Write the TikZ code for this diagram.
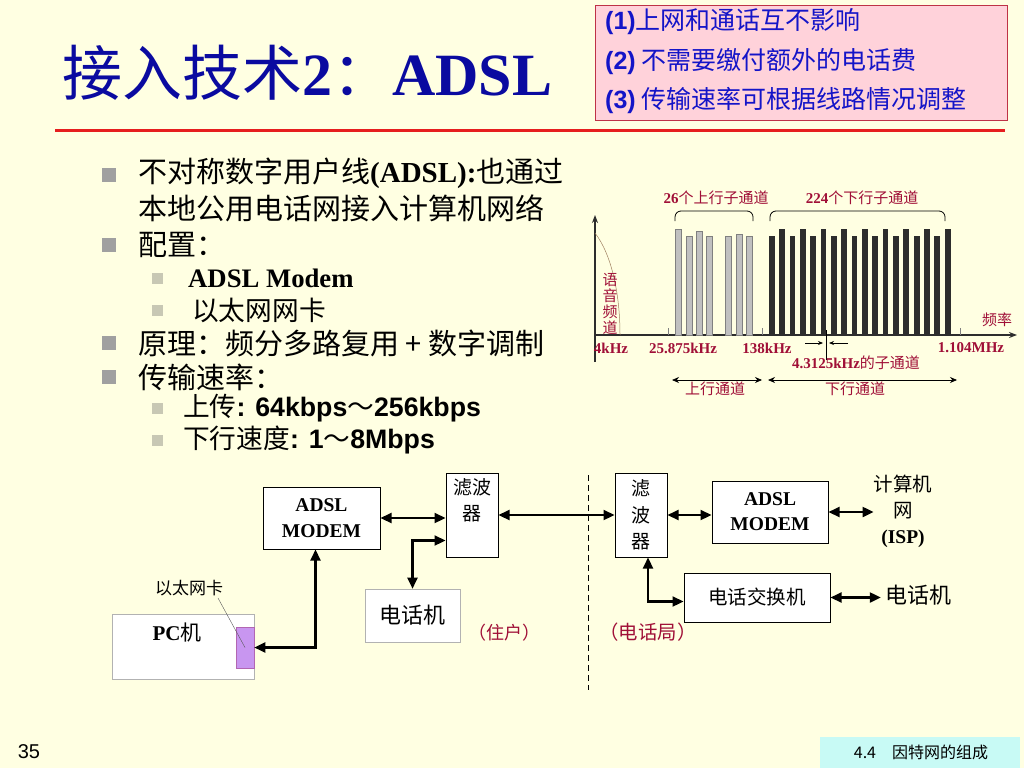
\documentclass[tikz,border=0pt]{standalone}
\usepackage{fontspec}
\setmainfont{Liberation Serif}
\newfontfamily\cjk{Noto Sans CJK SC}
\newfontfamily\arial{Liberation Sans}
\usetikzlibrary{arrows.meta, calc, positioning}

\definecolor{bgyellow}{RGB}{255,255,226}
\definecolor{titleblue}{RGB}{10,10,160}
\definecolor{rulered}{RGB}{230,30,30}
\definecolor{notepink}{RGB}{255,210,218}
\definecolor{noteedge}{RGB}{190,50,70}
\definecolor{noteblue}{RGB}{20,20,200}
\definecolor{wine}{RGB}{160,15,55}
\definecolor{bulgray}{RGB}{160,160,160}
\definecolor{subgray}{RGB}{200,200,180}
\definecolor{upgray}{RGB}{192,192,192}
\definecolor{downdark}{RGB}{45,45,45}
\definecolor{nicviolet}{RGB}{200,150,240}
\definecolor{footcyan}{RGB}{200,250,245}

\newcommand{\fsz}[2]{\fontsize{#1}{#2}\selectfont}
\newcommand{\tnr}[1]{{\rmfamily\bfseries #1}}
\newcommand{\arb}[1]{{\arial\bfseries #1}}

\tikzset{
  bul/.style={fill=bulgray, minimum size=14, inner sep=0pt},
  subbul/.style={fill=subgray, minimum size=11, inner sep=0pt},
  item/.style={anchor=west, inner sep=0pt, font=\cjk\fsz{29}{32}},
  subitem/.style={anchor=west, inner sep=0pt, font=\cjk\fsz{26.7}{30}},
  notetext/.style={anchor=west, inner sep=0pt, text=noteblue, font=\cjk\fsz{25}{28}},
  chartlbl/.style={inner sep=0pt, text=wine, font=\bfseries\fsz{15}{16}},
  chartcjk/.style={inner sep=0pt, text=wine, font=\cjk\fsz{15}{16}},
  axisline/.style={line width=1.4pt, draw=downdark},
  box/.style={draw, fill=white, line width=1pt, inner sep=0pt, align=center},
  softbox/.style={draw=gray!60, fill=white, line width=0.6pt, inner sep=0pt, align=center},
  link/.style={line width=2.2pt, {Triangle[length=11pt,width=10pt]}-{Triangle[length=11pt,width=10pt]}},
  thinlink/.style={line width=0.8pt, {Stealth[length=7pt,width=6pt]}-{Stealth[length=7pt,width=6pt]}}
}

\begin{document}
\begin{tikzpicture}[x=1pt, y=-1pt]
    % page
    \fill[bgyellow] (0,0) rectangle (1024,768);
    \useasboundingbox (0,0) rectangle (1024,768);

    % title and rule
    \node[anchor=west, inner sep=0pt, text=titleblue] (title) at (62,73)
        {\fsz{60}{62}{\cjk 接入技术}\textbf{2}{\cjk ：}\textbf{ADSL}};
    \draw[rulered, line width=3pt] (55,130) -- (1005,130);

    % advantages
    \node[draw=noteedge, fill=notepink, line width=1pt, minimum width=412, minimum height=115,
          anchor=north west, inner sep=0pt] (note) at (595,5) {};
    \node[notetext] (adv1) at (605,22) {\arb{(1)}上网和通话互不影响};
    \node[notetext] (adv2) at (605,62) {\arb{(2)} 不需要缴付额外的电话费};
    \node[notetext] (adv3) at (605,101) {\arb{(3)} 传输速率可根据线路情况调整};

    % bullet list
    \node[bul] (b1) at (109,175) {};
    \node[item] (t1) at (138,173) {不对称数字用户线\tnr{(ADSL):}也通过};
    \node[item] (t2) at (138,208) {本地公用电话网接入计算机网络};
    \node[bul] (b2) at (109,245) {};
    \node[item] (t3) at (138,245) {配置：};
    \node[subbul] (sb1) at (157,278) {};
    \node[subitem] (s1) at (188,278) {\tnr{ADSL Modem}};
    \node[subbul] (sb2) at (157,310) {};
    \node[subitem] (s2) at (192,310) {以太网网卡};
    \node[bul] (b3) at (109,343) {};
    \node[item] (t4) at (138,343) {原理：频分多路复用 + 数字调制};
    \node[bul] (b4) at (109,377) {};
    \node[item] (t5) at (138,377) {传输速率：};
    \node[subbul] (sb3) at (157,408) {};
    \node[subitem] (s3) at (183,408) {上传\arb{: 64kbps}～\arb{256kbps}};
    \node[subbul] (sb4) at (157,440) {};
    \node[subitem] (s4) at (183,440) {下行速度\arb{: 1}～\arb{8Mbps}};

    % spectrum chart
    \coordinate (org) at (595,335);
    \coordinate (ytop) at (595,215);
    \coordinate (ybot) at (595,362);
    \coordinate (xend) at (1017,335);
    \draw[axisline, -{Stealth[length=8pt,width=6pt]}] (ybot) -- (ytop);
    \draw[axisline, -{Stealth[length=8pt,width=6pt]}] (org) -- (xend);
    \draw[line width=0.5pt, brown!50!gray] (595,233) .. controls (612,255) and (620,295) .. (620,335);
    % upstream and downstream sub-channels
    \foreach \x/\t in {678/229,689/236,699/231,709/236,728/236,739/234,749/236}
        \filldraw[fill=upgray, draw=gray, line width=0.5pt] (\x-3,\t) rectangle (\x+3,335);
    \foreach \i in {0,...,17} {
        \pgfmathsetmacro{\bx}{771.7+10.35*\i}
        \pgfmathsetmacro{\bt}{isodd(\i) ? 229 : 236}
        \fill[downdark] (\bx-2.9,\bt) rectangle (\bx+2.9,335);
    }
    \foreach \x in {668,762,960}
        \draw[gray, line width=0.5pt] (\x,328) -- (\x,335);
    % sub-channel width marker
    \draw[line width=0.5pt] (826,330) -- (826,360);
    \draw[line width=0.8pt, -{Stealth[length=5pt,width=4pt]}] (805,343) -- (823,343);
    \draw[line width=0.8pt, -{Stealth[length=5pt,width=4pt]}] (848,343) -- (829,343);
    % braces
    \draw[line width=0.8pt, rounded corners=6] (675,221) -- (675,211) -- (753,211) -- (753,221);
    \draw[line width=0.8pt, rounded corners=6] (770,221) -- (770,211) -- (945,211) -- (945,221);
    % chart labels
    \node[chartlbl] (nup) at (716,198) {26{\mdseries\cjk 个上行子通道}};
    \node[chartlbl] (ndown) at (862,198) {224{\mdseries\cjk 个下行子通道}};
    \node[chartcjk, align=center, font=\cjk\fsz{15}{16}] (voice) at (610,304) {语\\音\\频\\道};
    \node[chartcjk] (freq) at (997,320) {频率};
    \node[chartlbl] (f4k) at (611,348) {4kHz};
    \node[chartlbl] (f25) at (683,348) {25.875kHz};
    \node[chartlbl] (f138) at (767,348) {138kHz};
    \node[chartlbl] (f1104) at (971,348) {1.104MHz};
    \node[chartlbl] (fsub) at (856,363) {4.3125kHz{\mdseries\cjk 的子通道}};
    \coordinate (upL) at (672,380);
    \coordinate (upR) at (762,380);
    \coordinate (dnL) at (768,380);
    \coordinate (dnR) at (957,380);
    \draw[thinlink] (upL) -- (upR);
    \draw[thinlink] (dnL) -- (dnR);
    \node[chartcjk] (upch) at (715,389) {上行通道};
    \node[chartcjk] (dnch) at (855,389) {下行通道};

    % user side
    \node[box, minimum width=117, minimum height=62, font=\bfseries\fsz{19.5}{26}] (modemL) at (321.5,518) {ADSL\\MODEM};
    \node[box, minimum width=52, minimum height=84] (filtL) at (472,515) {};
    \node[align=center, inner sep=0pt, font=\cjk\fsz{19}{26}] (filtLtxt) at (472,500) {滤波\\器};
    \node[softbox, minimum width=95, minimum height=53, font=\cjk\fsz{22}{24}] (phone) at (412.5,615.5) {电话机};
    \node[inner sep=0pt, text=wine, font=\cjk\fsz{18}{20}] (home) at (504,633) {（住户）};
    \node[softbox, minimum width=142, minimum height=65] (pc) at (183,646.5) {};
    \node[inner sep=0pt, font=\fsz{21}{22}] (pctxt) at (177,633) {\textbf{PC}{\cjk 机}};
    \node[draw=violet!60, fill=nicviolet, line width=0.6pt, minimum width=18, minimum height=41, inner sep=0pt] (nic) at (245,647.5) {};
    \node[inner sep=0pt, font=\cjk\fsz{17}{18}] (niclbl) at (189,588) {以太网卡};
    \coordinate (nictail) at (218,598);
    \draw[line width=0.4pt, gray!70!black] (nictail) -- (nic.center);

    % office side
    \node[box, minimum width=52, minimum height=84, font=\cjk\fsz{19}{26.5}] (filtR) at (641,515) {滤\\波\\器};
    \node[box, minimum width=116, minimum height=62, font=\bfseries\fsz{19.5}{25}] (modemR) at (770,512) {ADSL\\MODEM};
    \node[align=center, inner sep=0pt, font=\cjk\fsz{19.5}{26}] (isp) at (903,511) {计算机\\网\\\tnr{(ISP)}};
    \node[box, minimum width=146, minimum height=49, font=\cjk\fsz{19.5}{22}] (switch) at (757,597.5) {电话交换机};
    \node[inner xsep=4pt, inner ysep=0pt, font=\cjk\fsz{22}{24}] (phoneR) at (918,595) {电话机};
    \node[inner sep=0pt, text=wine, font=\cjk\fsz{19.4}{21}] (office) at (648,632) {（电话局）};
    \coordinate (divtop) at (588,475);
    \coordinate (divbot) at (588,690);
    \draw[dash pattern=on 6pt off 4pt, line width=0.8pt] (divtop) -- (divbot);

    % connections
    \draw[link] ($(modemL.south)+(-6,0)$) |- (nic.east);
    \draw[link] (modemL.east) -- (modemL.east -| filtL.west);
    \draw[link] (phone.north) |- ($(filtL.south west)+(0,-17)$);
    \draw[link] (filtL.east) -- (filtR.west);
    \draw[link] (filtR.east) -- (filtR.east -| modemR.west);
    \draw[link] (modemR.east) -- (modemR.east -| isp.west);
    \draw[link] ($(filtR.south)+(7,0)$) |- ($(switch.west)+(0,4)$);
    \draw[link] (switch.east) -- (switch.east -| phoneR.west);

    % footer
    \node[inner sep=0pt, font=\arial\fsz{20}{22}] (pageno) at (29,752) {35};
    \node[fill=footcyan, minimum width=200, minimum height=31, inner sep=0pt, anchor=north west] (footbox) at (820,737) {};
    \node[inner sep=0pt, font=\cjk\fsz{16}{18}] (foottxt) at (921,752) {4.4\quad 因特网的组成};
\end{tikzpicture}
\end{document}
